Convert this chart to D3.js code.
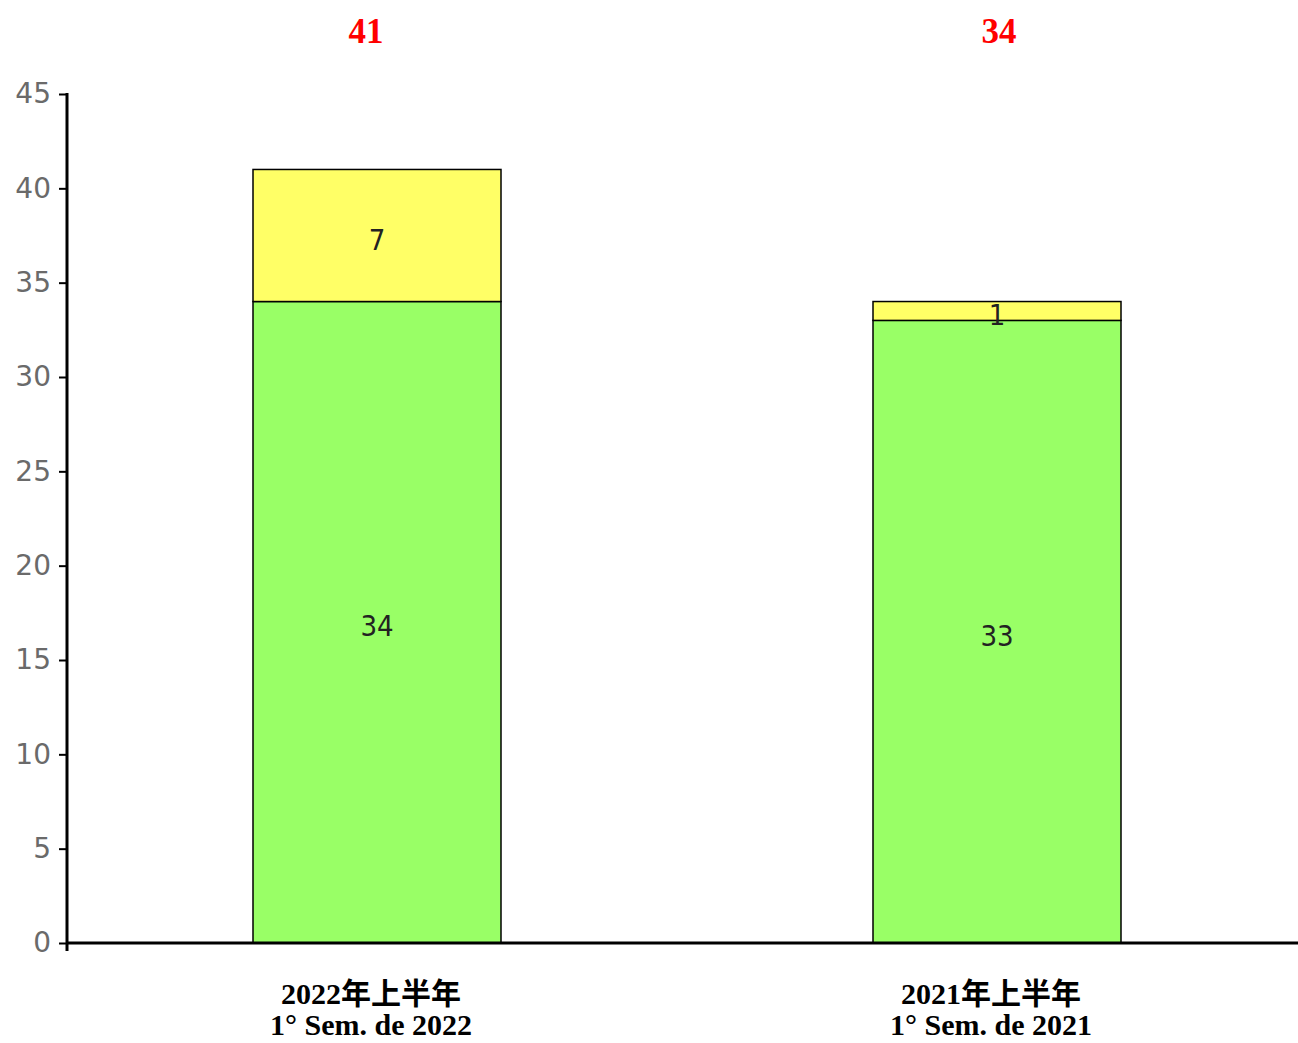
<!DOCTYPE html>
<html><head><meta charset="utf-8">
<script src="https://cdn.jsdelivr.net/npm/d3@7"></script>
<style>body{margin:0;background:#fff}svg{display:block}</style>
</head><body>
<svg id="c" width="1298" height="1043"></svg>
<script>
const categories = ["2022年上半年|1° Sem. de 2022", "2021年上半年|1° Sem. de 2021"];
const greenValues = [34, 33];
const yellowValues = [7, 1];
const yTicks = [0, 5, 10, 15, 20, 25, 30, 35, 40, 45];

const svg = d3.select("#c");
const y = d3.scaleLinear().domain([0, 45]).range([943, 94]);
const x = d3.scaleBand().domain(categories).range([67, 1307]).paddingInner(0.6).paddingOuter(0.3);

const data = categories.map((c, i) => ({c, g: greenValues[i], yv: yellowValues[i], t: greenValues[i] + yellowValues[i]}));

// bars
const g = svg.append("g");
g.selectAll("rect.g").data(data).join("rect")
  .attr("x", d => x(d.c)).attr("width", x.bandwidth())
  .attr("y", d => y(d.g)).attr("height", d => y(0) - y(d.g))
  .attr("fill", "#99ff66").attr("stroke", "#000").attr("stroke-width", 1.5);
g.selectAll("rect.y").data(data).join("rect")
  .attr("x", d => x(d.c)).attr("width", x.bandwidth())
  .attr("y", d => y(d.t)).attr("height", d => y(d.g) - y(d.t))
  .attr("fill", "#ffff66").attr("stroke", "#000").attr("stroke-width", 1.5);

// value labels
function addLabels(sel, valFn, midFn) {
  sel.selectAll(null).data(data).join("text")
    .attr("x", d => x(d.c) + x.bandwidth() / 2)
    .attr("y", d => midFn(d) + 6)
    .attr("text-anchor", "middle").attr("dominant-baseline", "middle")
    .attr("font-family", "'Liberation Sans Narrow', 'DejaVu Sans Condensed', sans-serif")
    .attr("font-size", 29).attr("fill", "#222")
    .text(valFn);
}
addLabels(svg.append("g"), d => d.g, d => (y(0) + y(d.g)) / 2);
addLabels(svg.append("g"), d => d.yv, d => (y(d.g) + y(d.t)) / 2);

// totals
svg.append("g").selectAll("text").data(data).join("text")
  .attr("x", d => x(d.c) + x.bandwidth() / 2 + (d === data[1] ? 2 : -11))
  .attr("y", 35).attr("text-anchor", "middle").attr("dominant-baseline", "middle")
  .attr("font-family", "'Liberation Serif', 'Times New Roman', serif")
  .attr("font-weight", "bold").attr("font-size", 35).attr("fill", "#ff0000")
  .text(d => d.t);

// y axis
const ya = svg.append("g").attr("transform", "translate(67,0)")
  .call(d3.axisLeft(y).tickValues(yTicks).tickSize(8).tickPadding(8));
ya.select(".domain").remove();
ya.selectAll(".tick line").attr("stroke", "#000").attr("stroke-width", 2);
ya.selectAll(".tick text").attr("font-family", "'DejaVu Sans', Verdana, sans-serif")
  .attr("font-size", 28).attr("fill", "#6a6a6a");
svg.append("line").attr("x1", 67).attr("x2", 67).attr("y1", y(45) - 1).attr("y2", 951)
  .attr("stroke", "#000").attr("stroke-width", 3);
// x axis line
svg.append("line").attr("x1", 66).attr("x2", 1298).attr("y1", y(0)).attr("y2", y(0))
  .attr("stroke", "#000").attr("stroke-width", 3);

// category labels
const cl = svg.append("g").selectAll("text").data(data).join("text")
  .attr("text-anchor", "middle")
  .attr("font-family", "'Liberation Serif', 'Noto Sans CJK SC', serif")
  .attr("font-weight", "bold").attr("font-size", 30).attr("fill", "#000");
cl.each(function(d) {
  const parts = d.c.split("|");
  const t = d3.select(this);
  const cx = x(d.c) + x.bandwidth() / 2 - 6;
  t.append("tspan").attr("x", cx).attr("y", 1004).text(parts[0]);
  t.append("tspan").attr("x", cx).attr("y", 1035).text(parts[1]);
});
</script>
</body></html>
